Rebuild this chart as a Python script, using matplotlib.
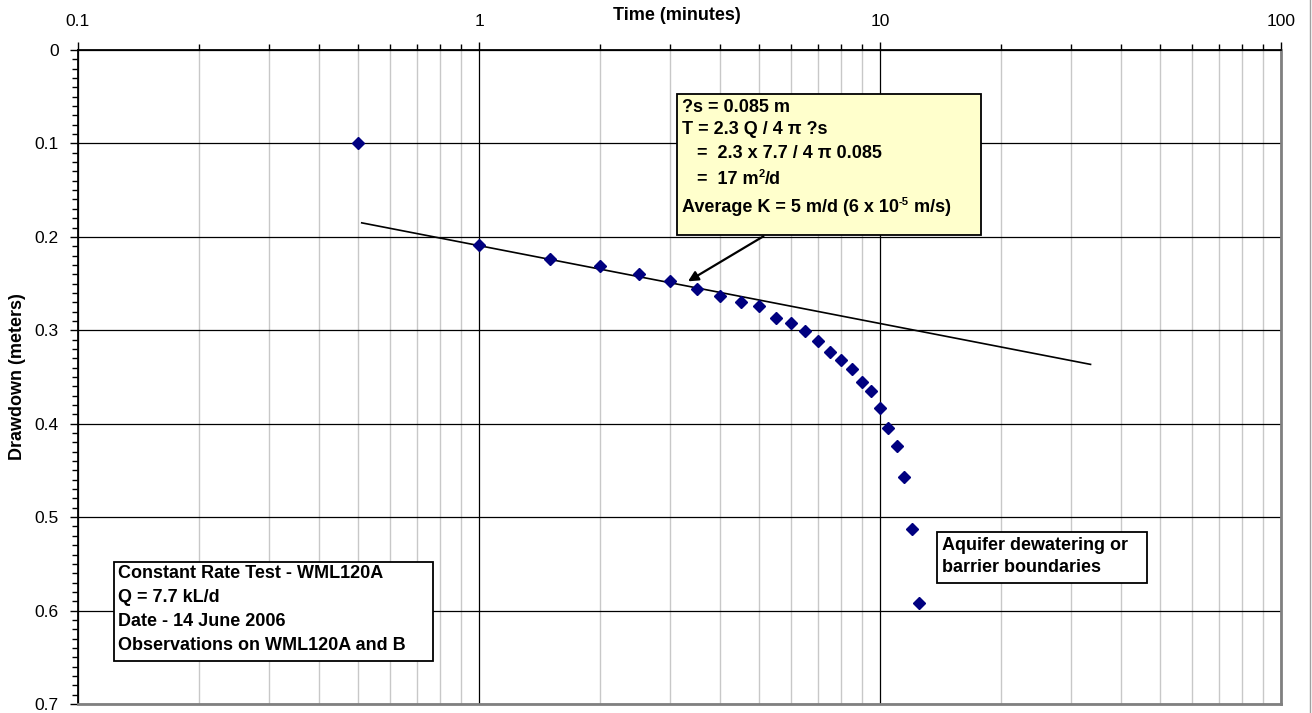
import matplotlib
matplotlib.use("Agg")
import matplotlib.pyplot as plt
from matplotlib.patches import Rectangle
from matplotlib.lines import Line2D
from matplotlib.ticker import FixedLocator, NullFormatter, LogLocator

plt.rcParams['font.family'] = ['Liberation Sans', 'DejaVu Sans']

# ---- data ----
time_min = [0.5, 1.0, 1.5, 2.0, 2.5, 3.0, 3.5, 4.0, 4.5, 5.0, 5.5, 6.0, 6.5, 7.0,
            7.5, 8.0, 8.5, 9.0, 9.5, 10.0, 10.5, 11.0, 11.5, 12.0, 12.5]
drawdown_m = [0.100, 0.209, 0.224, 0.231, 0.240, 0.247, 0.256, 0.263, 0.270, 0.274,
              0.287, 0.292, 0.301, 0.312, 0.323, 0.332, 0.341, 0.355, 0.365, 0.383,
              0.405, 0.424, 0.457, 0.513, 0.592]
fit_time = [0.51, 33.5]
fit_drawdown = [0.185, 0.3365]
x_ticks = [0.1, 1, 10, 100]
x_tick_labels = ["0.1", "1", "10", "100"]
y_ticks = [0, 0.1, 0.2, 0.3, 0.4, 0.5, 0.6, 0.7]
y_tick_labels = ["0", "0.1", "0.2", "0.3", "0.4", "0.5", "0.6", "0.7"]

W, H = 1312, 713
fig = plt.figure(figsize=(W / 100, H / 100), dpi=100)
renderer = fig.canvas.get_renderer()

def fx(px):
    return px / W

def fy(py):
    return 1 - py / H

ax_l, ax_r, ax_t, ax_b = 78, 1281, 50, 704
ax = fig.add_axes([fx(ax_l), fy(ax_b), fx(ax_r - ax_l), (ax_b - ax_t) / H])
ax.set_xscale('log')
ax.set_xlim(0.1, 100)
ax.set_ylim(0.7, 0)

# grid
ax.xaxis.set_minor_locator(LogLocator(base=10, subs=range(2, 10), numticks=20))
ax.xaxis.set_minor_formatter(NullFormatter())
ax.set_xticks(x_ticks)
ax.set_xticklabels(x_tick_labels)
ax.set_yticks(y_ticks)
ax.set_yticklabels(y_tick_labels)
ax.yaxis.set_minor_locator(FixedLocator([i / 100 for i in range(0, 71)]))
ax.grid(True, which='major', axis='both', color='black', linewidth=0.9)
ax.grid(True, which='minor', axis='x', color='#C8C8C8', linewidth=1.0)
ax.set_axisbelow(True)

ax.xaxis.tick_top()
ax.tick_params(axis='x', which='major', direction='out', length=6, width=1,
               labelsize=12.5, pad=9, color='black')
ax.tick_params(axis='x', which='minor', direction='out', length=4, width=1, color='black')
ax.tick_params(axis='y', which='major', direction='out', length=6, width=1,
               labelsize=12.5, pad=8)
ax.tick_params(axis='y', which='minor', direction='out', length=4, width=1)

for s in ['top', 'left']:
    ax.spines[s].set_color('black')
    ax.spines[s].set_linewidth(1.3)
for s in ['bottom', 'right']:
    ax.spines[s].set_color('#808080')
    ax.spines[s].set_linewidth(2.0)

fig.text(fx(677), fy(15), 'Time (minutes)', fontsize=13, fontweight='bold',
         ha='center', va='center')
fig.text(fx(18), fy(377), 'Drawdown (meters)', fontsize=13, fontweight='bold',
         ha='center', va='center', rotation=90)

# fit line and data
ax.plot(fit_time, fit_drawdown, color='black', linewidth=1.2, zorder=3)
ax.plot(time_min, drawdown_m, linestyle='none', marker='D', markersize=6.5,
        color='#000080', markeredgecolor='#000080', zorder=4)

# arrow
ax.annotate('', xy=(3.32, 0.2476), xytext=(5.12, 0.1994),
            arrowprops=dict(arrowstyle='-|>', color='black', lw=1.6,
                            mutation_scale=15, shrinkA=0, shrinkB=0), zorder=5)

# text boxes
def box(x0, y0, x1, y1, face):
    r = Rectangle((fx(x0), fy(y1)), fx(x1 - x0), (y1 - y0) / H,
                  transform=fig.transFigure, facecolor=face, edgecolor='black',
                  linewidth=1.3, zorder=10)
    fig.patches.append(r)

def runs(x_px, y_px, parts, size=13):
    """Draw a line made of (text, is_superscript) runs, left to right."""
    x = x_px
    for txt, sup in parts:
        if sup:
            t = fig.text(fx(x), fy(y_px - 6), txt, fontsize=size * 0.62,
                         fontweight='bold', va='center', ha='left', zorder=11)
        else:
            t = fig.text(fx(x), fy(y_px), txt, fontsize=size, fontweight='bold',
                         va='center', ha='left', zorder=11)
        bb = t.get_window_extent(renderer=renderer)
        x = x + bb.width

box(677, 94, 981, 235, '#FFFFCC')
lines1 = [[("?s = 0.085 m", False)],
          [("T = 2.3 Q / 4 \u03c0 ?s", False)],
          [("   =  2.3 x 7.7 / 4 \u03c0 0.085", False)],
          [("   =  17 m", False), ("2", True), ("/d", False)],
          [("Average K = 5 m/d (6 x 10", False), ("-5", True), (" m/s)", False)]]
ys1 = [107, 130, 154, 180, 208]
for parts, yy in zip(lines1, ys1):
    runs(682, yy, parts)

box(114, 562, 433, 661, 'white')
lines2 = ["Constant Rate Test - WML120A", "Q = 7.7 kL/d", "Date - 14 June 2006",
          "Observations on WML120A and B"]
ys2 = [574, 598, 621, 645]
for t, yy in zip(lines2, ys2):
    runs(118, yy, [(t, False)])

box(937, 532, 1147, 583, 'white')
lines3 = ["Aquifer dewatering or", "barrier boundaries"]
ys3 = [545, 568]
for t, yy in zip(lines3, ys3):
    runs(942, yy, [(t, False)])

# outer frame line at the right edge of the chart area
fig.lines.append(Line2D([fx(1310), fx(1310)], [0, 1], transform=fig.transFigure,
                        color='#A0A0A0', linewidth=1.0))

fig.savefig('out.png', dpi=100)
